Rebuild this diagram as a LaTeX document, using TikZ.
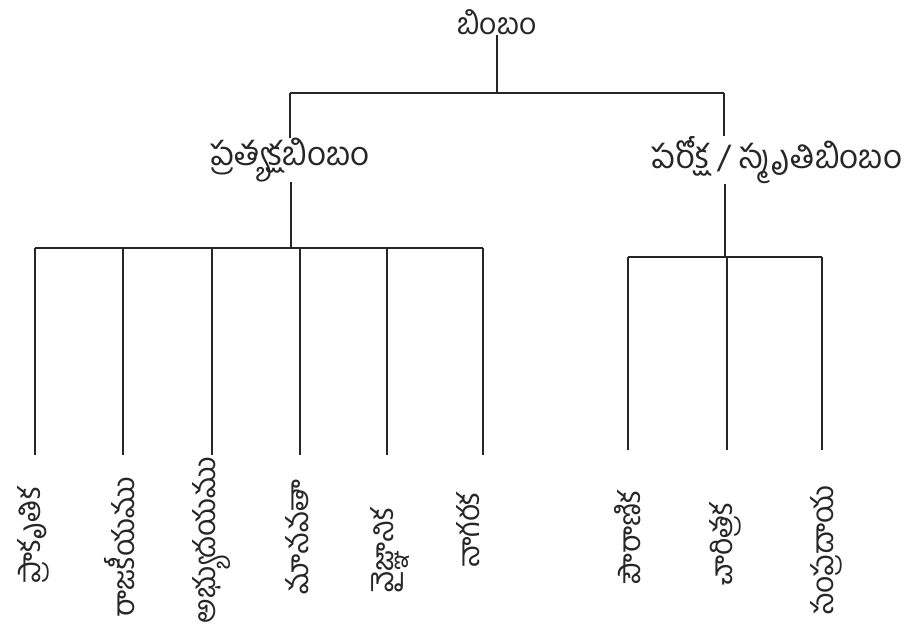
\documentclass[tikz,border=0pt]{standalone}
\usepackage{fontspec}
\newfontfamily\tel[Script=Telugu]{Hind Guntur}
\begin{document}
\begin{tikzpicture}[x=1pt,y=-1pt,
  lbl/.style={font=\tel\fontsize{30}{32}\selectfont, inner sep=0pt, text=black!85},
  midlbl/.style={lbl, font=\tel\fontsize{33}{35}\selectfont},
  leaf/.style={lbl, rotate=90},
  ln/.style={draw=black!85, line width=1.8pt}]
\useasboundingbox[fill=white] (0,0) rectangle (920,630);
% top
\node[lbl] (root) at (497,22) {బింబం};
\node[midlbl] (L) at (290,160) {ప్రత్యక్షబింబం};
\node[midlbl] (R) at (777,160) {పరోక్ష / స్మృతిబింబం};
\coordinate (j0) at (497,93);
\coordinate (jl) at (290,93);
\coordinate (jr) at (724,93);
\draw[ln] (root.south) -- (j0);
\draw[ln] (jl) -- (jr);
\draw[ln] (jl) -- (L.north -| jl);
\draw[ln] (jr) -- (R.north -| jr);
% left subtree
\coordinate (bl) at (291,248);
\coordinate (bl1) at (35,248);
\coordinate (bl6) at (483,248);
\draw[ln] (L.south -| bl) -- (bl);
\draw[ln] (bl1) -- (bl6);
\foreach \i/\x in {1/35,2/123,3/212,4/300,5/387,6/483}{
  \coordinate (t\i) at (\x,248);
  \coordinate (e\i) at (\x,455);
  \draw[ln] (t\i) -- (e\i);
}
% right subtree
\coordinate (br) at (725,257);
\coordinate (br1) at (628,257);
\coordinate (br3) at (822,257);
\draw[ln] (R.south -| br) -- (br);
\draw[ln] (br1) -- (br3);
\foreach \i/\x in {1/628,2/727,3/822}{
  \coordinate (u\i) at (\x,257);
  \coordinate (f\i) at (\x,450);
  \draw[ln] (u\i) -- (f\i);
}
% leaves
\node[leaf] (a1) at (33,535) {ప్రాకృతిక};
\node[leaf] (a2) at (120,547) {రాజకీయము};
\node[leaf] (a3) at (212,540) {అభ్యుదయము};
\node[leaf] (a4) at (297,537) {మానవతా};
\node[leaf] (a5) at (390,550) {వైజ్ఞానిక};
\node[leaf] (a6) at (468,530) {నాగరక};
\node[leaf] (b1) at (628,537) {పౌరాణిక};
\node[leaf] (b2) at (725,544) {చారిత్రక};
\node[leaf] (b3) at (826,550) {సంప్రదాయ};
\end{tikzpicture}
\end{document}
